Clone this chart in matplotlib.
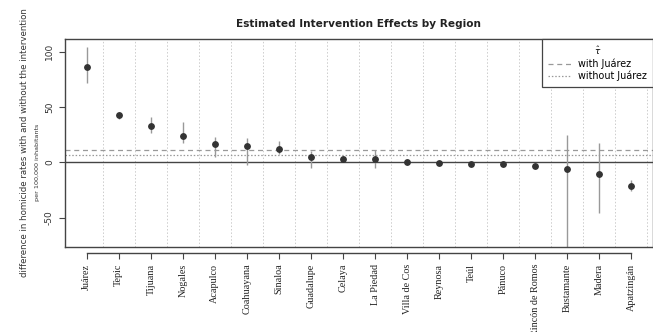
import numpy as np
import matplotlib.pyplot as plt
from matplotlib.lines import Line2D

# region estimates, sorted by effect
regions = ['Juárez', 'Tepic', 'Tijuana', 'Nogales', 'Acapulco', 'Coahuayana',
           'Sinaloa', 'Guadalupe', 'Celaya', 'La Piedad', 'Villa de Cos',
           'Reynosa', 'Teúl', 'Pánuco', 'Rincón de Romos', 'Bustamante',
           'Madera', 'Apatzingán']
effect = [86.4, 42.7, 33.1, 23.5, 16.3, 15.0, 12.0, 4.8, 3.3, 3.3, 0.2,
          -0.9, -1.2, -1.8, -3.3, -5.7, -10.6, -21.1]
ci_low = [71.4, 38.8, 26.2, 17.2, 5.1, -2.4, 7.5, -5.0, 1.5, -5.4, -1.5,
          -2.8, -3.0, -3.0, -5.2, -85.0, -46.0, -25.9]
ci_high = [103.9, 45.7, 40.6, 36.7, 22.6, 21.7, 19.2, 10.5, 5.3, 11.1, 1.8,
           1.0, 0.6, -0.6, -1.4, 24.7, 17.7, -16.0]
tau_with = 11.1
tau_without = 6.3

x = np.arange(1, len(regions) + 1)

fig = plt.figure(figsize=(6.53, 3.32), dpi=100)
ax = fig.add_axes([65/653, 85/332, 588/653, 208/332])

ax.set_xlim(0.32, 18.68)
ax.set_ylim(-76.5, 111.4)

# dotted separators between regions
for xm in np.arange(1.5, len(regions) + 1, 1.0):
    ax.axvline(xm, color='#cccccc', lw=0.7, ls=(0, (1.5, 2)), zorder=0)

ax.axhline(0, color='#444444', lw=1.0, zorder=1)
ax.axhline(tau_with, color='#999999', lw=0.9, ls=(0, (4, 3)), zorder=1)
ax.axhline(tau_without, color='#999999', lw=0.9, ls=(0, (1.2, 1.5)), zorder=1)

ax.vlines(x, ci_low, ci_high, color='#999999', lw=1.0, zorder=2)
ax.plot(x, effect, 'o', color='#333333', ms=3.9, zorder=3)

# R-style box + detached bottom axis
for s in ax.spines.values():
    s.set_color('#444444')
    s.set_linewidth(1.0)
ax.spines['bottom'].set_position(('outward', 4))
ax.spines['bottom'].set_bounds(1, len(regions))
ax.plot([0, 1], [0, 0], transform=ax.transAxes, color='#444444', lw=1.0,
        clip_on=False, zorder=5)

ax.set_xticks(x)
ax.set_xticklabels(regions, rotation=90, family='Liberation Serif',
                   fontsize=7.3, color='#222222')
ax.set_yticks([-50, 0, 50, 100])
ax.set_yticklabels(['-50', '0', '50', '100'], rotation=90, va='center',
                   fontsize=6.5, color='#333333')
ax.tick_params(axis='x', length=4, color='#444444', pad=4)
ax.tick_params(axis='y', length=4, color='#444444', pad=4)

fig.text(25/653, 1 - 143/332,
         'difference in homicide rates with and without the intervention',
         rotation=90, ha='center', va='center', fontsize=6.2, color='#333333')
fig.text(37/653, 1 - 162/332, 'per 100,000 inhabitants', rotation=90,
         ha='center', va='center', fontsize=4.6, color='#333333')

fig.text(359/653, 1 - 24/332, 'Estimated Intervention Effects by Region',
         ha='center', va='center', fontsize=7.6, fontweight='bold',
         color='#222222')

handles = [Line2D([], [], color='#999999', lw=0.9, ls=(0, (4, 3))),
           Line2D([], [], color='#999999', lw=0.9, ls=(0, (1.2, 1.5)))]
leg = ax.legend(handles, ['with Juárez', 'without Juárez'],
                title=r'$\hat{\tau}$', loc='upper right',
                bbox_to_anchor=(1.0, 1.0), borderaxespad=0,
                fontsize=6.9, title_fontsize=6.4,
                fancybox=False, framealpha=1, edgecolor='#444444',
                handlelength=2.4, borderpad=0.6, labelspacing=0.15)
leg.get_frame().set_linewidth(0.9)

fig.savefig('out.png', dpi=100, facecolor='white')
